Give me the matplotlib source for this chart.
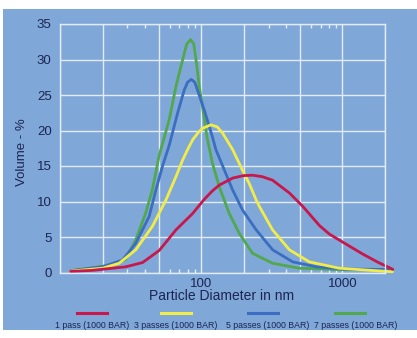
import matplotlib
matplotlib.use("Agg")
import matplotlib.pyplot as plt
from matplotlib.patches import Rectangle
from matplotlib.lines import Line2D
from matplotlib.ticker import FixedLocator, FixedFormatter

plt.rcParams['font.family'] = ['Liberation Sans', 'DejaVu Sans']

# data (diameter in nm, volume %)
d_1pass = [11.9, 16.9, 29.2, 38.4, 50.4, 66.2, 86.8, 105, 120, 134, 167, 200, 231, 270, 320,
           421, 524, 688, 809, 1000, 1390, 1800, 2270]
v_1pass = [0.15, 0.3, 0.8, 1.4, 3.1, 6.0, 8.3, 10.3, 11.5, 12.3, 13.3, 13.65, 13.7, 13.5, 13.0,
           11.2, 9.3, 6.6, 5.4, 4.3, 2.6, 1.4, 0.45]

d_3pass = [11.9, 20, 26.2, 34.4, 45.1, 56.2, 66.2, 73.7, 80, 87, 95, 102, 117, 130, 142,
           167, 196, 219, 245, 258, 320, 421, 582, 950, 2260]
v_3pass = [0.2, 0.6, 1.3, 3.2, 6.5, 10.2, 13.5, 15.8, 17.3, 18.7, 19.7, 20.3, 20.8, 20.5, 19.6,
           17.3, 14.4, 12.5, 10.2, 9.3, 6.0, 3.2, 1.5, 0.6, 0.1]

d_5pass = [11.9, 20, 27.7, 34.4, 42.8, 47.7, 53.2, 59.3, 67.9, 75.8, 80, 85, 90,
           94, 105, 120, 127, 146, 167, 196, 245, 320, 444, 652, 1000, 2260]
v_5pass = [0.25, 0.8, 1.76, 4.1, 7.9, 11.6, 15.0, 17.9, 22.4, 25.7, 26.8, 27.2, 26.8,
           25.7, 22.9, 19.1, 17.3, 14.4, 11.6, 8.8, 6.0, 3.2, 1.5, 0.8, 0.5, 0.4]

d_7pass = [11.9, 22, 29, 34.4, 40.5, 45, 50.4, 59.3, 66.2, 73.7, 79, 84, 88.5,
           92.5, 96.8, 102, 110, 120, 134, 158, 186, 231, 320, 495, 1000, 2260]
v_7pass = [0.25, 1.0, 1.8, 4.6, 8.4, 11.6, 16.5, 21.5, 26.2, 29.9, 32.2, 32.8, 32.2,
           29.5, 26.2, 23.4, 19.0, 15.4, 12.1, 8.3, 5.5, 2.7, 1.3, 0.6, 0.4, 0.45]

labels = ["1 pass (1000 BAR)", "3 passes (1000 BAR)",
          "5 passes (1000 BAR)", "7 passes (1000 BAR)"]
colors = ['#c8174a', '#f2ec48', '#3b6ec0', '#52a84c']

x_grid = [10, 20, 50, 100, 200, 500, 1000, 2000]
x_labels = ['', '', '', '100', '', '', '1000', '']
x_minor = [30, 40, 60, 70, 80, 90, 300, 400, 600, 700, 800, 900]
y_ticks = [0, 5, 10, 15, 20, 25, 30, 35]

bg = '#7fa7d8'
grid_col = '#e2ecf7'
text_col = '#1c2552'

fig = plt.figure(figsize=(4.17, 3.38), dpi=100, facecolor='white')
fig.patches.append(Rectangle((3/417, 1-330/338), 414/417, 321/338,
                             transform=fig.transFigure, facecolor=bg,
                             edgecolor='none', zorder=-10))

ax = fig.add_axes([60/417, 1-272.5/338, 325/417, 248.5/338])
ax.set_facecolor('none')
ax.set_xscale('log')
ax.set_xlim(10, 2000)
ax.set_ylim(0, 35)

ax.xaxis.set_major_locator(FixedLocator(x_grid))
ax.xaxis.set_major_formatter(FixedFormatter(x_labels))
ax.xaxis.set_minor_locator(FixedLocator(x_minor))
ax.xaxis.set_minor_formatter(FixedFormatter([''] * len(x_minor)))
ax.set_yticks(y_ticks)
ax.tick_params(axis='both', which='major', length=0, labelsize=9.5,
               labelcolor=text_col)
ax.tick_params(axis='x', which='major', pad=4)
ax.tick_params(axis='y', which='major', pad=6)
ax.tick_params(axis='x', which='minor', direction='in', length=3, width=1,
               color=grid_col, top=True, bottom=True)
ax.grid(True, which='major', color=grid_col, linewidth=1)
for s in ax.spines.values():
    s.set_color(grid_col)
    s.set_linewidth(1)

series = [(d_7pass, v_7pass, colors[3]), (d_5pass, v_5pass, colors[2]),
          (d_3pass, v_3pass, colors[1]), (d_1pass, v_1pass, colors[0])]
for d, v, c in series:
    ax.plot(d, v, color=c, linewidth=2.0, clip_on=False, solid_capstyle='round',
            solid_joinstyle='round')

fig.text(22/417, 1-152/338, 'Volume - %', rotation=90, ha='center', va='center',
         fontsize=9.5, color=text_col)
fig.text(222/417, 1-296/338, 'Particle Diameter in nm', ha='center', va='center',
         fontsize=10, color=text_col)

# legend: short line above each label
line_x = [92, 176, 263, 350]
text_x = [92, 176, 268, 356]
for lx, tx, lab, c in zip(line_x, text_x, labels, colors):
    fig.lines.append(Line2D([(lx-15)/417, (lx+15)/417], [1-313/338, 1-313/338],
                            transform=fig.transFigure, color=c, linewidth=2.2))
    fig.text(tx/417, 1-325/338, lab, ha='center', va='center', fontsize=6.3,
             color=text_col)

fig.savefig('out.png', dpi=100, facecolor='white')
